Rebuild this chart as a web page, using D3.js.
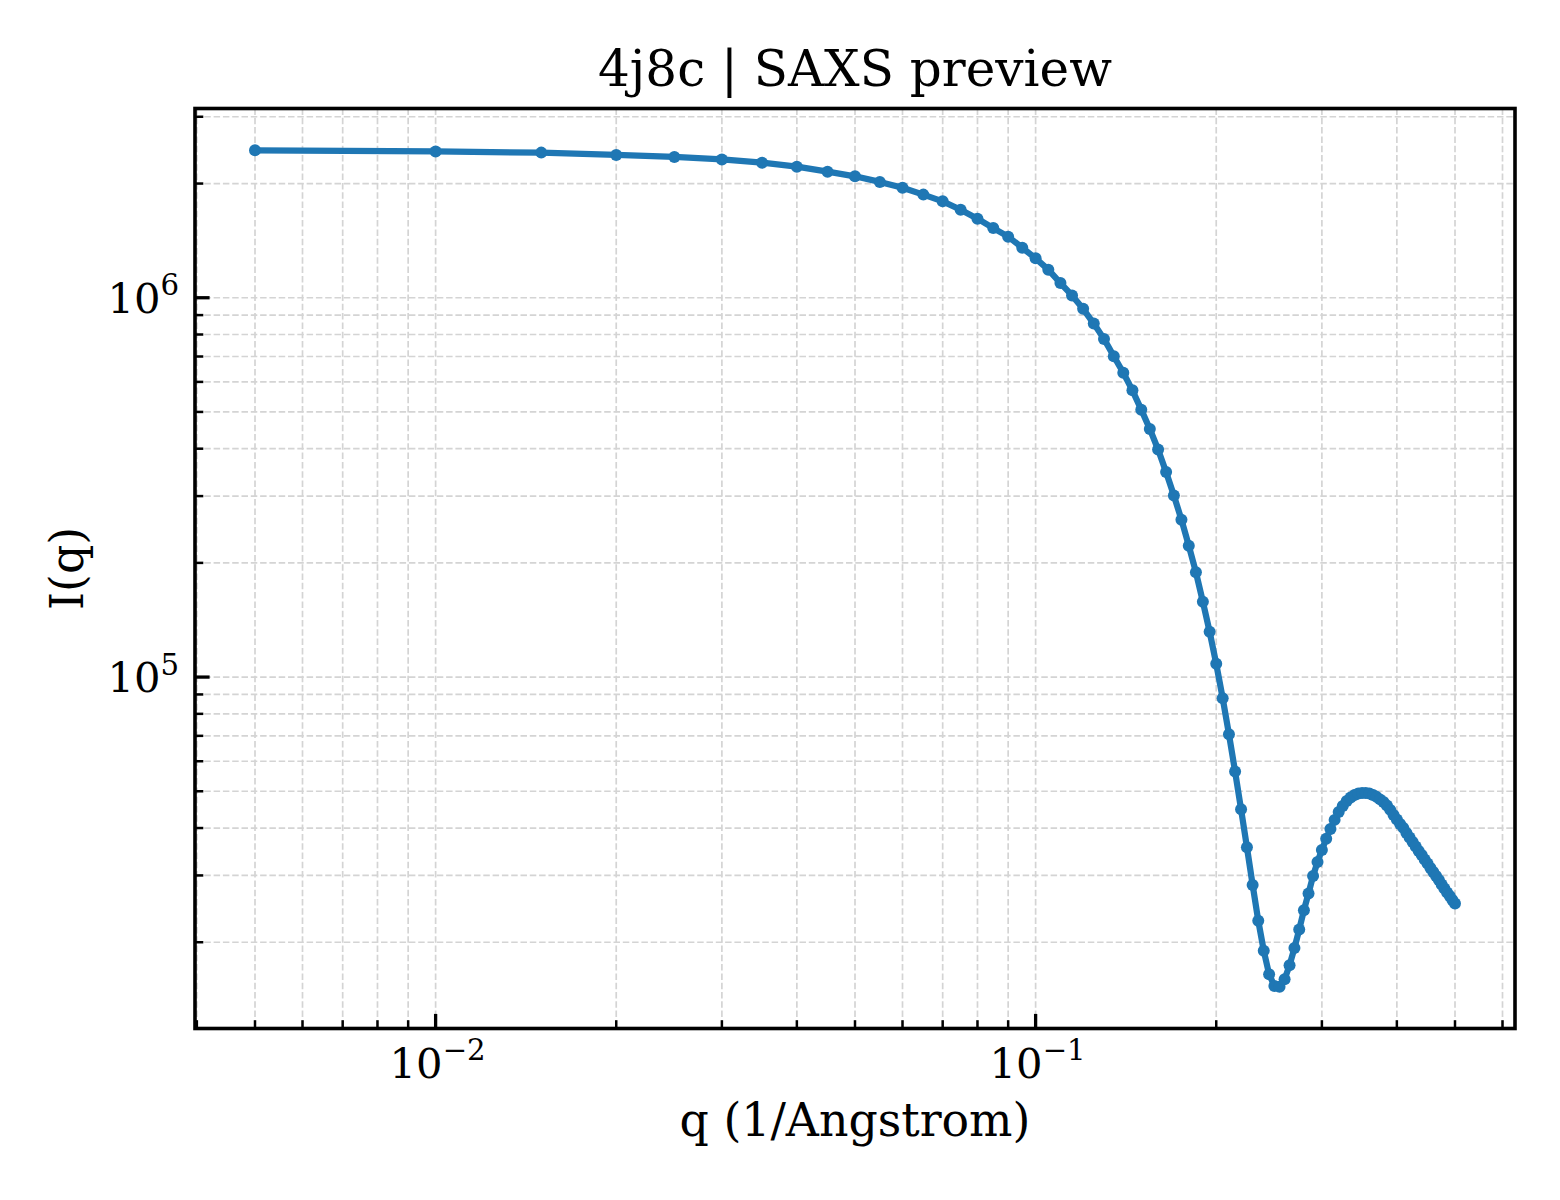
<!DOCTYPE html>
<html>
<head>
<meta charset="utf-8">
<script src="https://cdn.jsdelivr.net/npm/d3@7/dist/d3.min.js"></script>
<style>
  html, body { margin: 0; padding: 0; background: #ffffff; }
  svg { display: block; }
  text { font-family: "DejaVu Serif", "Liberation Serif", serif; fill: #000; }
</style>
</head>
<body>
<svg id="chart" width="1560" height="1200"></svg>
<script>
// ---- data ----
const qValues = [
  0.005, 0.010, 0.015, 0.020, 0.025, 0.030, 0.035, 0.040, 0.045, 0.050,
  0.055, 0.060, 0.065, 0.070, 0.075, 0.080, 0.085, 0.090, 0.095, 0.100,
  0.105, 0.110, 0.115, 0.120, 0.125, 0.130, 0.135, 0.140, 0.145, 0.150,
  0.155, 0.160, 0.165, 0.170, 0.175, 0.180, 0.185, 0.190, 0.195, 0.200,
  0.205, 0.210, 0.215, 0.220, 0.225, 0.230, 0.235, 0.240, 0.245, 0.250,
  0.255, 0.260, 0.265, 0.270, 0.275, 0.280, 0.285, 0.290, 0.295, 0.300,
  0.305, 0.310, 0.315, 0.320, 0.325, 0.330, 0.335, 0.340, 0.345, 0.350,
  0.355, 0.360, 0.365, 0.370, 0.375, 0.380, 0.385, 0.390, 0.395, 0.400,
  0.405, 0.410, 0.415, 0.420, 0.425, 0.430, 0.435, 0.440, 0.445, 0.450,
  0.455, 0.460, 0.465, 0.470, 0.475, 0.480, 0.485, 0.490, 0.495, 0.500
];
const intensity = [
  2.447e6, 2.430e6, 2.413e6, 2.380e6, 2.350e6, 2.316e6, 2.270e6, 2.216e6, 2.150e6, 2.090e6,
  2.020e6, 1.950e6, 1.870e6, 1.795e6, 1.706e6, 1.616e6, 1.526e6, 1.449e6, 1.355e6, 1.270e6,
  1.186e6, 1.093e6, 1.014e6, 9.35e5, 8.55e5, 7.79e5, 7.01e5, 6.34e5, 5.70e5, 5.07e5,
  4.51e5, 3.98e5, 3.47e5, 3.01e5, 2.60e5, 2.22e5, 1.89e5, 1.58e5, 1.317e5, 1.084e5,
  8.80e4, 7.07e4, 5.64e4, 4.48e4, 3.56e4, 2.83e4, 2.28e4, 1.90e4, 1.646e4, 1.533e4,
  1.527e4, 1.597e4, 1.740e4, 1.930e4, 2.160e4, 2.430e4, 2.690e4, 2.990e4, 3.256e4, 3.503e4,
  3.746e4, 3.979e4, 4.203e4, 4.412e4, 4.575e4, 4.716e4, 4.817e4, 4.891e4, 4.936e4, 4.951e4,
  4.951e4, 4.936e4, 4.891e4, 4.833e4, 4.760e4, 4.688e4, 4.589e4, 4.466e4, 4.332e4, 4.215e4,
  4.102e4, 4.004e4, 3.884e4, 3.779e4, 3.677e4, 3.578e4, 3.481e4, 3.397e4, 3.306e4, 3.226e4,
  3.140e4, 3.064e4, 2.990e4, 2.918e4, 2.840e4, 2.771e4, 2.705e4, 2.649e4, 2.585e4, 2.531e4
];
const xMajorTicks = [0.01, 0.1];
const xMajorExponents = ["\u22122", "\u22121"];
const yMajorTicks = [1e5, 1e6];
const yMajorExponents = ["5", "6"];
const titleText = "4j8c | SAXS preview";
const xLabelText = "q (1/Angstrom)";
const yLabelText = "I(q)";

// ---- layout ----
const W = 1560, H = 1200;
const plot = { left: 195, right: 1515, top: 108.5, bottom: 1028.5 };
const lineColor = "#1f77b4";

const svg = d3.select("#chart");

// log-space 5% margins (matplotlib default)
function logPad(ext) {
  const a = Math.log10(ext[0]), b = Math.log10(ext[1]);
  const m = (b - a) * 0.05;
  return [Math.pow(10, a - m), Math.pow(10, b + m)];
}
const x = d3.scaleLog().domain(logPad(d3.extent(qValues))).range([plot.left, plot.right]);
const y = d3.scaleLog().domain(logPad(d3.extent(intensity))).range([plot.bottom, plot.top]);

const isMajor = v => Math.abs(Math.log10(v) - Math.round(Math.log10(v))) < 1e-9;
const xTicksAll = x.ticks().filter(v => v >= x.domain()[0] && v <= x.domain()[1]);
const yTicksAll = y.ticks().filter(v => v >= y.domain()[0] && v <= y.domain()[1]);

// background
svg.append("rect").attr("x", 0).attr("y", 0).attr("width", W).attr("height", H).attr("fill", "#fff");

// grid
const grid = svg.append("g").attr("stroke", "#d4d4d4").attr("stroke-width", 1.7)
  .attr("stroke-dasharray", "6.5,2.8").attr("fill", "none");
grid.selectAll("line.gx").data(xTicksAll).join("line")
  .attr("x1", d => x(d)).attr("x2", d => x(d))
  .attr("y1", plot.top).attr("y2", plot.bottom);
grid.selectAll("line.gy").data(yTicksAll).join("line")
  .attr("y1", d => y(d)).attr("y2", d => y(d))
  .attr("x1", plot.left).attr("x2", plot.right);

// data line + markers
const pts = qValues.map((q, i) => [q, intensity[i]]);
const line = d3.line().x(d => x(d[0])).y(d => y(d[1]));
svg.append("path").datum(pts).attr("d", line)
  .attr("fill", "none").attr("stroke", lineColor).attr("stroke-width", 6.25)
  .attr("stroke-linejoin", "round").attr("stroke-linecap", "round");
svg.append("g").selectAll("circle").data(pts).join("circle")
  .attr("cx", d => x(d[0])).attr("cy", d => y(d[1])).attr("r", 6)
  .attr("fill", lineColor);

// ticks (inward, left and bottom)
const ticks = svg.append("g").attr("stroke", "#000");
ticks.selectAll("line.tx").data(xTicksAll).join("line")
  .attr("x1", d => x(d)).attr("x2", d => x(d))
  .attr("y1", plot.bottom).attr("y2", d => plot.bottom - (isMajor(d) ? 14.6 : 8.3))
  .attr("stroke-width", d => isMajor(d) ? 3.3 : 2.5);
ticks.selectAll("line.ty").data(yTicksAll).join("line")
  .attr("y1", d => y(d)).attr("y2", d => y(d))
  .attr("x1", plot.left).attr("x2", d => plot.left + (isMajor(d) ? 14.6 : 8.3))
  .attr("stroke-width", d => isMajor(d) ? 3.3 : 2.5);

// spines
svg.append("rect")
  .attr("x", plot.left).attr("y", plot.top)
  .attr("width", plot.right - plot.left).attr("height", plot.bottom - plot.top)
  .attr("fill", "none").attr("stroke", "#000").attr("stroke-width", 3.6);

// tick labels
const tickFont = 41.7;
const xl = svg.append("g");
xMajorTicks.forEach((v, i) => {
  const t = xl.append("text").attr("x", x(v) + 2).attr("y", plot.bottom + 49)
    .attr("text-anchor", "middle").attr("font-size", tickFont);
  t.append("tspan").text("10");
  t.append("tspan").attr("font-size", tickFont * 0.7).attr("dy", -tickFont * 0.42).text(xMajorExponents[i]);
});
const yl = svg.append("g");
yMajorTicks.forEach((v, i) => {
  const t = yl.append("text").attr("x", plot.left - 16).attr("y", y(v) + 15)
    .attr("text-anchor", "end").attr("font-size", tickFont);
  t.append("tspan").text("10");
  t.append("tspan").attr("font-size", tickFont * 0.7).attr("dy", -tickFont * 0.42).text(yMajorExponents[i]);
});

// axis labels
svg.append("text").attr("x", (plot.left + plot.right) / 2).attr("y", 1136)
  .attr("text-anchor", "middle").attr("font-size", 45.8).text(xLabelText);
svg.append("text")
  .attr("transform", `translate(${83},${(plot.top + plot.bottom) / 2}) rotate(-90)`)
  .attr("text-anchor", "middle").attr("font-size", 45.8).text(yLabelText);

// title
svg.append("text").attr("x", (plot.left + plot.right) / 2).attr("y", 86)
  .attr("text-anchor", "middle").attr("font-size", 50).text(titleText);
</script>
</body>
</html>
